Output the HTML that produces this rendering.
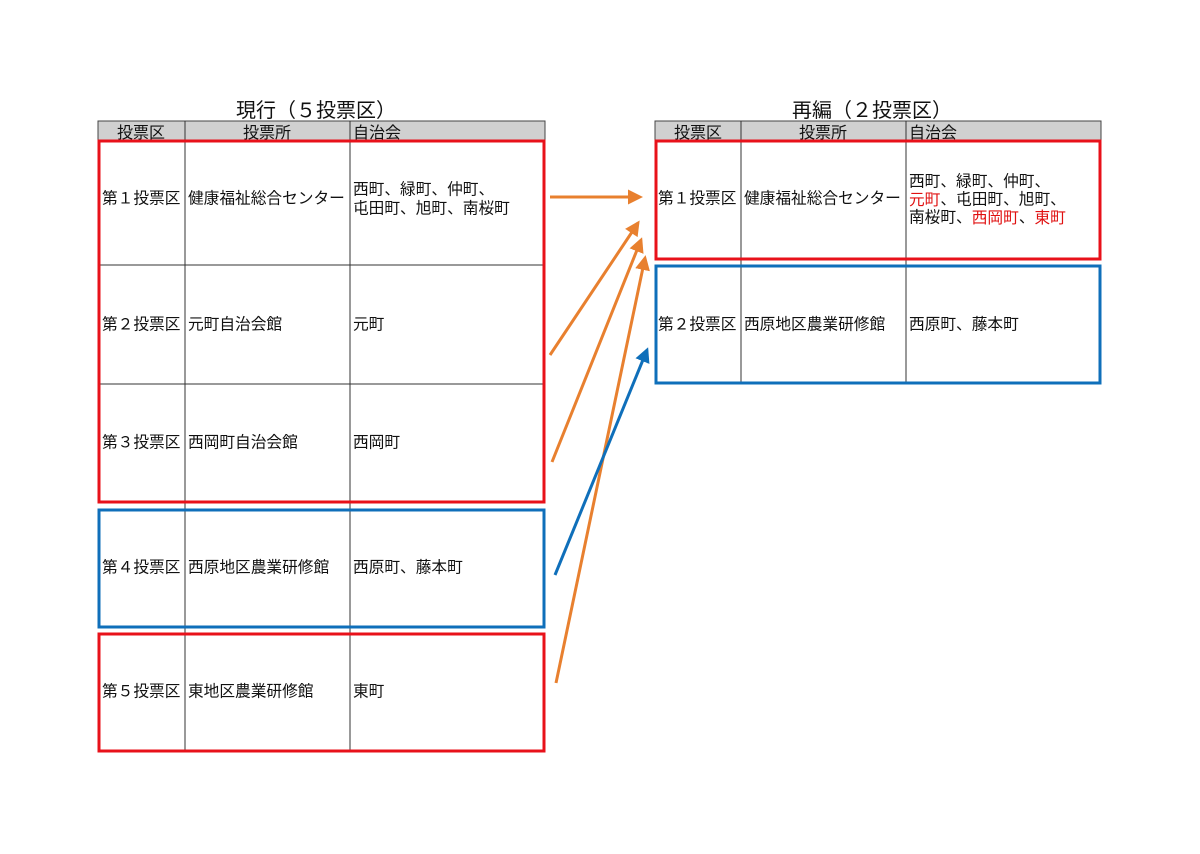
<!DOCTYPE html>
<html><head><meta charset="utf-8"><style>
html,body{margin:0;padding:0;background:#fff;}
svg text{font-family:"Liberation Sans","Noto Sans CJK JP",sans-serif;fill:#111;}
</style></head><body>
<svg width="1200" height="849" viewBox="0 0 1200 849" xmlns="http://www.w3.org/2000/svg">
<defs>
<marker id="ao" markerWidth="5" markerHeight="5" refX="4" refY="2.5" orient="auto" markerUnits="strokeWidth"><path d="M0,0 L5,2.5 L0,5 Z" fill="#e8802f"/></marker>
<marker id="ab" markerWidth="5" markerHeight="5" refX="4" refY="2.5" orient="auto" markerUnits="strokeWidth"><path d="M0,0 L5,2.5 L0,5 Z" fill="#0f6fba"/></marker>
</defs>
<g font-size="20" text-anchor="middle">
<text x="316" y="117">現行（５投票区）</text>
<text x="872" y="117">再編（２投票区）</text>
</g>
<rect x="98" y="121" width="447" height="19" fill="#d0d0d0" stroke="#444" stroke-width="1"/>
<g stroke="#333" stroke-width="1">
<line x1="185" y1="121" x2="185" y2="752"/><line x1="350" y1="121" x2="350" y2="752"/>
<line x1="98" y1="265" x2="545" y2="265"/><line x1="98" y1="384" x2="545" y2="384"/>
<line x1="741" y1="121" x2="741" y2="384"/><line x1="906" y1="121" x2="906" y2="384"/>
</g>
<rect x="655" y="121" width="446" height="19" fill="#d0d0d0" stroke="#444" stroke-width="1"/>
<line x1="741" y1="121" x2="741" y2="140" stroke="#333"/><line x1="906" y1="121" x2="906" y2="140" stroke="#333"/>
<line x1="185" y1="121" x2="185" y2="140" stroke="#333"/><line x1="350" y1="121" x2="350" y2="140" stroke="#333"/>
<g font-size="16">
<text x="141" y="138" text-anchor="middle">投票区</text>
<text x="267" y="138" text-anchor="middle">投票所</text>
<text x="353" y="138">自治会</text>
<text x="698" y="138" text-anchor="middle">投票区</text>
<text x="823" y="138" text-anchor="middle">投票所</text>
<text x="909" y="138">自治会</text>
</g>
<g font-size="15.7" dominant-baseline="central">
<text x="102" y="199">第１投票区</text><text x="188" y="199">健康福祉総合センター</text>
<text x="353" y="190">西町、緑町、仲町、</text><text x="353" y="209">屯田町、旭町、南桜町</text>
<text x="102" y="325">第２投票区</text><text x="188" y="325">元町自治会館</text><text x="353" y="325">元町</text>
<text x="102" y="443">第３投票区</text><text x="188" y="443">西岡町自治会館</text><text x="353" y="443">西岡町</text>
<text x="102" y="568">第４投票区</text><text x="188" y="568">西原地区農業研修館</text><text x="353" y="568">西原町、藤本町</text>
<text x="102" y="692">第５投票区</text><text x="188" y="692">東地区農業研修館</text><text x="353" y="692">東町</text>
<text x="658" y="199">第１投票区</text><text x="744" y="199">健康福祉総合センター</text>
<text x="909" y="182">西町、緑町、仲町、</text>
<text x="909" y="200"><tspan fill="#e01010">元町</tspan>、屯田町、旭町、</text>
<text x="909" y="218">南桜町、<tspan fill="#e01010">西岡町</tspan>、<tspan fill="#e01010">東町</tspan></text>
<text x="658" y="325">第２投票区</text><text x="744" y="325">西原地区農業研修館</text><text x="909" y="325">西原町、藤本町</text>
</g>
<g fill="none" stroke-width="3">
<rect x="99" y="141" width="445" height="361" stroke="#e8111a"/>
<rect x="99" y="510" width="445" height="117" stroke="#0f6fba"/>
<rect x="99" y="634" width="445" height="117" stroke="#e8111a"/>
<rect x="656" y="141" width="444" height="118" stroke="#e8111a"/>
<rect x="656" y="266" width="444" height="117" stroke="#0f6fba"/>
</g>
<g stroke="#e8802f" stroke-width="3" fill="none">
<line x1="550" y1="197" x2="640" y2="197" marker-end="url(#ao)"/>
<line x1="550" y1="355" x2="638" y2="223" marker-end="url(#ao)"/>
<line x1="552" y1="462" x2="641" y2="240" marker-end="url(#ao)"/>
<line x1="556" y1="683" x2="645" y2="258" marker-end="url(#ao)"/>
</g>
<line x1="555" y1="575" x2="647" y2="350" stroke="#0f6fba" stroke-width="3" marker-end="url(#ab)"/>
</svg>
</body></html>
